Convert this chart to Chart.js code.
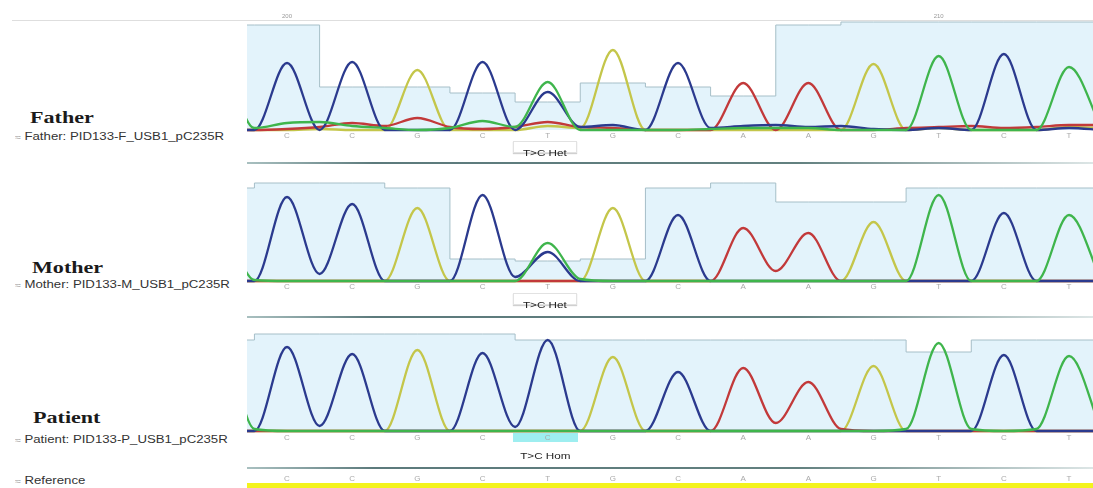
<!DOCTYPE html>
<html><head><meta charset="utf-8">
<script src="https://cdn.jsdelivr.net/npm/chart.js@4"></script>
<style>
body{margin:0;width:1093px;height:488px;overflow:hidden;background:#fff;position:relative;font-family:"Liberation Sans",Arial,sans-serif}
.abs{position:absolute}
.title{font-family:"Liberation Serif","Times New Roman",serif;font-weight:bold;font-size:16px;line-height:16px;color:#1a1a1a;transform:scaleX(1.38);transform-origin:0 50%;white-space:nowrap}
.sub{font-size:10px;line-height:10px;color:#333;transform:scaleX(1.32);transform-origin:0 50%;white-space:nowrap}
.sub span{color:#999;font-size:8px}
.sep{left:247px;width:846px;height:2px;background:linear-gradient(to right,#a9c0c0 0%,#5c7a7c 15%,#62807f 65%,#b8c8c8 90%,#dde6e6 100%)}
.box{width:62px;height:10px;background:#fff;border:1px solid #e2e2e2;box-shadow:0 1px 1px #d0d0d0;text-align:center}
.ann{font-size:9px;line-height:10px;color:#222;display:inline-block;transform:scaleX(1.3)}
canvas{position:absolute;left:247px}
</style></head>
<body>
<div class="abs" style="left:12px;top:20px;width:1081px;height:1px;background:#dedede"></div>

<div class="abs sep" style="top:162px"></div>
<div class="abs sep" style="top:316px"></div>
<div class="abs sep" style="top:467px"></div>
<div class="abs" style="left:247px;top:483px;width:846px;height:5px;background:#f3f31c"></div>
<div class="abs" style="left:513px;top:433px;width:65px;height:9px;background:#9eeef0"></div>

<div class="abs title" style="left:30px;top:110px">Father</div>
<div class="abs sub" style="left:15px;top:132px"><span>≈</span> Father: PID133-F_USB1_pC235R</div>
<div class="abs title" style="left:32px;top:260px">Mother</div>
<div class="abs sub" style="left:15px;top:280px"><span>≈</span> Mother: PID133-M_USB1_pC235R</div>
<div class="abs title" style="left:33px;top:410px">Patient</div>
<div class="abs sub" style="left:15px;top:435px"><span>≈</span> Patient: PID133-P_USB1_pC235R</div>
<div class="abs sub" style="left:15px;top:476px"><span>≈</span> Reference</div>

<canvas id="father" width="846" height="165" style="top:0px"></canvas>
<canvas id="mother" width="846" height="155" style="top:165px"></canvas>
<canvas id="patient" width="846" height="168" style="top:320px"></canvas>

<div class="abs box" style="left:513px;top:141px"><span class="ann">T&gt;C Het</span></div>
<div class="abs box" style="left:513px;top:293px"><span class="ann">T&gt;C Het</span></div>
<div class="abs" style="left:513px;top:445px;width:64px;text-align:center"><span class="ann">T&gt;C Hom</span></div>

<script>
// ---- positions (base units) ----
const samplePos = [-1,-0.5,0,0.5,1,1.5,2,2.5,3,3.5,4,4.5,5,5.5,6,6.5,7,7.5,8,8.5,9,9.5,10,10.5,11,11.5,12,12.5];
const basePos = [0,1,2,3,4,5,6,7,8,9,10,11,12];
const qualityPos = [-1,0,1,2,3,4,5,6,7,8,9,10,11,12,13];

// ---- base calls ----
const fatherBases    = ['C','C','G','C','T','G','C','A','A','G','T','C','T'];
const motherBases    = ['C','C','G','C','T','G','C','A','A','G','T','C','T'];
const patientBases   = ['C','C','G','C','C','G','C','A','A','G','T','C','T'];
const referenceBases = ['C','C','G','C','T','G','C','A','A','G','T','C','T'];

// ---- ruler ----
const rulerPos = [0, 10];
const rulerLabels = ['200', '210'];

// ---- Father traces (signal at samplePos) ----
const fatherC = [0,0,67,0,68,0,0,0,68,0,38,3,5,0,67,2,4,5,3,4,1,0,2,0,76,0,2,0];
const fatherG = [2,0,0,1,0,0,60,0,0,0,4,2,80,0,0,0,0,0,0,0,66,0,2,0,0,0,3,2];
const fatherT = [85,2,7,8,4,2,0,2,9,3,48,0,0,0,0,1,2,2,2,0,0,0,74,0,0,0,63,2];
const fatherA = [0,0,1,3,7,4,12,3,1,3,8,3,2,0,0,0,47,0,47,0,0,2,3,4,2,3,5,5];
const fatherQuality = [105,105,43,43,37,28,47,43,34,105,108,108,108,108,108];

// ---- Mother traces ----
const motherC = [0,0,84,7,77,0,0,0,86,4,29,0,0,0,66,0,0,0,0,0,0,0,0,0,68,0,0,0];
const motherG = [0,0,0,0,0,0,73,0,0,0,0,0,73,0,0,0,0,0,0,0,59,0,0,0,0,0,0,0];
const motherT = [70,1,0,0,0,0,0,0,0,0,38,2,0,0,0,0,0,0,0,0,0,0,86,0,0,0,66,0];
const motherA = [0,0,0,0,0,0,0,0,0,0,0,0,0,0,0,0,53,10,48,0,0,0,0,0,0,0,0,0];
const motherQuality = [93,98,98,93,22,20,22,93,98,79,79,93,93,93,93];

// ---- Patient traces ----
const patientC = [0,0,84,5,77,0,0,0,78,4,91,0,0,0,59,0,0,0,0,0,0,0,0,0,76,0,0,0];
const patientG = [0,0,0,0,0,0,81,0,0,0,0,0,74,0,0,0,0,0,0,0,65,0,0,0,0,0,0,0];
const patientT = [120,2,0,0,0,0,0,0,0,0,0,0,0,0,0,0,0,0,0,0,0,2,88,2,0,2,75,0];
const patientA = [0,0,0,0,0,0,0,0,0,0,0,0,0,0,0,0,63,8,49,2,0,0,0,0,0,0,0,0];
const patientQuality = [91,97,97,97,97,91,91,91,91,91,91,79,91,91,91];

const COLORS = {C:'#2b3a8e', G:'#c4c64a', T:'#3fb54c', A:'#c2393a'};

const letterPlugin = {
  id: 'letters',
  afterDatasetsDraw(chart, args, opts) {
    const {ctx, scales:{x, y}} = chart;
    ctx.save();
    ctx.font = '8px "Liberation Sans", Arial, sans-serif';
    ctx.fillStyle = '#aaaaaa';
    ctx.textAlign = 'center';
    ctx.textBaseline = 'middle';
    (opts.rows || []).forEach(row => {
      row.letters.forEach((b, i) => {
        ctx.fillText(b, x.getPixelForValue(basePos[i]), y.getPixelForValue(row.at));
      });
    });
    if (opts.ruler) {
      ctx.font = '6px "Liberation Sans", Arial, sans-serif';
      ctx.fillStyle = '#999';
      rulerPos.forEach((p, i) => {
        ctx.fillText(rulerLabels[i], x.getPixelForValue(p), y.getPixelForValue(opts.ruler));
      });
    }
    ctx.restore();
  }
};

function pts(arr, pos) { return arr.map((v, k) => ({x: pos[k], y: v})); }

function trace(arr, color) {
  return {data: pts(arr, samplePos), borderColor: color, borderWidth: 2.3,
    cubicInterpolationMode: 'monotone', pointRadius: 0, fill: false};
}

function makeChart(id, tr, quality, yMin, yMax, rows, ruler) {
  new Chart(document.getElementById(id), {
    type: 'line',
    data: {datasets: [
      trace(tr.T, COLORS.T),
      trace(tr.C, COLORS.C),
      trace(tr.A, COLORS.A),
      trace(tr.G, COLORS.G),
      {data: pts(quality, qualityPos), stepped: 'middle', borderColor: '#a6bfc8', borderWidth: 1,
       backgroundColor: '#e3f3fb', fill: {value: 0}, pointRadius: 0}
    ]},
    options: {
      responsive: false, animation: false, events: [],
      layout: {padding: 0},
      scales: {
        x: {type: 'linear', min: -0.614, max: 12.368, display: false},
        y: {min: yMin, max: yMax, display: false}
      },
      plugins: {legend: {display: false}, tooltip: {enabled: false},
        letters: {rows: rows, ruler: ruler}}
    },
    plugins: [letterPlugin]
  });
}

makeChart('father', {C: fatherC, G: fatherG, T: fatherT, A: fatherA}, fatherQuality,
  -35, 130, [{letters: fatherBases, at: -6}], 114);
makeChart('mother', {C: motherC, G: motherG, T: motherT, A: motherA}, motherQuality,
  -39, 116, [{letters: motherBases, at: -6}], null);
makeChart('patient', {C: patientC, G: patientG, T: patientT, A: patientA}, patientQuality,
  -57, 111, [{letters: patientBases, at: -7}, {letters: referenceBases, at: -48}], null);
</script>
</body></html>
